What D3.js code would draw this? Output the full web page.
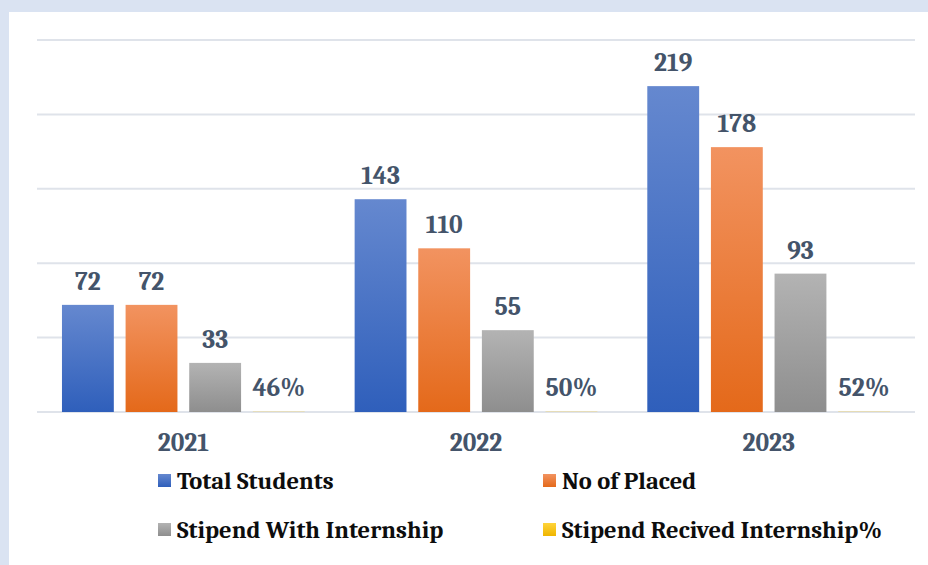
<!DOCTYPE html>
<html><head><meta charset="utf-8">
<script src="https://cdn.jsdelivr.net/npm/d3@7"></script>
<style>
html,body{margin:0;padding:0;background:#dae3f2;}
svg{display:block;}
</style></head>
<body>
<svg id="chart" width="928" height="565"></svg>
<script>
const years = ["2021", "2022", "2023"];
const seriesNames = ["Total Students", "No of Placed", "Stipend With Internship", "Stipend Recived Internship%"];
const totalStudents = [72, 143, 219];
const noOfPlaced = [72, 110, 178];
const stipendWithInternship = [33, 55, 93];
const stipendReceivedPct = [0.46, 0.50, 0.52];
const yTicks = [0, 50, 100, 150, 200, 250];

const seriesValues = [totalStudents, noOfPlaced, stipendWithInternship, stipendReceivedPct];
const grads = [["#6588cf", "#2f5fbb"], ["#f29360", "#e4691a"], ["#b3b3b3", "#8e8e8e"], ["#ffd43a", "#efb500"]];

const svg = d3.select("#chart");
svg.append("rect").attr("x", 9).attr("y", 12).attr("width", 928 - 9).attr("height", 565 - 12).attr("fill", "#ffffff");

const defs = svg.append("defs");
grads.forEach((g, i) => {
  const lg = defs.append("linearGradient").attr("id", "g" + i).attr("x1", 0).attr("y1", 0).attr("x2", 0).attr("y2", 1);
  lg.append("stop").attr("offset", "0%").attr("stop-color", g[0]);
  lg.append("stop").attr("offset", "100%").attr("stop-color", g[1]);
});

const pLeft = 37, pRight = 915, pTop = 40, pBottom = 412;
const y = d3.scaleLinear().domain([0, 250]).range([pBottom, pTop]);
const x0 = d3.scaleBand().domain(years).range([pLeft, pRight]).paddingInner(0.1706).paddingOuter(0.0853);
const x1 = d3.scaleBand().domain(d3.range(4)).range([0, x0.bandwidth()]).paddingInner(0.185).paddingOuter(0);

// gridlines
svg.append("g").selectAll("line").data(yTicks).join("line")
  .attr("x1", pLeft).attr("x2", pRight)
  .attr("y1", d => y(d)).attr("y2", d => y(d))
  .attr("stroke", "#dfe3ea").attr("stroke-width", 2);

const serif = "Cambria, 'Liberation Serif', 'DejaVu Serif', serif";
const fmt = (si, v) => si === 3 ? Math.round(v * 100) + "%" : v;

years.forEach((yr, gi) => {
  const g = svg.append("g").attr("transform", `translate(${x0(yr)},0)`);
  seriesValues.forEach((vals, si) => {
    const v = vals[gi];
    const h = Math.max(pBottom - y(v), 0);
    g.append("rect").attr("x", x1(si)).attr("y", y(v)).attr("width", x1.bandwidth()).attr("height", h)
      .attr("fill", `url(#g${si})`).attr("opacity", si === 3 ? 0.35 : 1);
    g.append("text").attr("x", x1(si) + x1.bandwidth() / 2).attr("y", y(v) - 15)
      .attr("text-anchor", "middle").attr("font-family", serif).attr("font-weight", "bold")
      .attr("font-size", 25.5).attr("fill", "#44546a").text(fmt(si, v));
  });
});

// x axis labels
svg.append("g").selectAll("text").data(years).join("text")
  .attr("x", d => x0(d) + x0.bandwidth() / 2).attr("y", 451)
  .attr("text-anchor", "middle").attr("font-family", serif).attr("font-weight", "bold")
  .attr("font-size", 25.5).attr("fill", "#44546a").text(d => d);

// legend
const legPos = [[158, 481], [543, 481], [158, 530], [543, 530]];
seriesNames.forEach((name, i) => {
  const [lx, ly] = legPos[i];
  svg.append("rect").attr("x", lx).attr("y", ly - 7).attr("width", 13).attr("height", 13).attr("fill", `url(#g${i})`);
  svg.append("text").attr("x", lx + 19).attr("y", ly + 8).attr("font-family", serif).attr("font-weight", "bold")
    .attr("font-size", 24.5).attr("fill", "#0d0d0d").text(name);
});
</script>
</body></html>
